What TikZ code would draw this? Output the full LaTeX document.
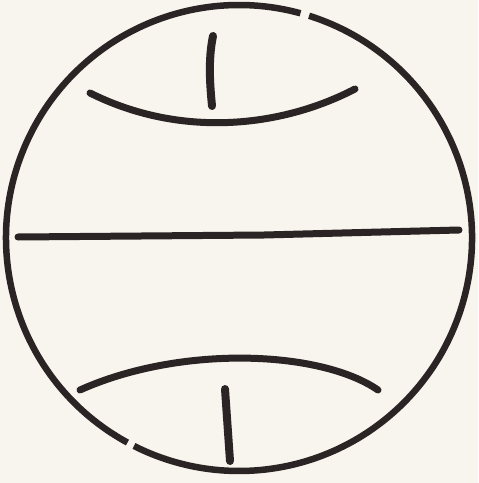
\documentclass[tikz,border=0pt]{standalone}
\usepackage{xcolor}
\usepackage{tikz}
\usetikzlibrary{positioning}

\definecolor{paper}{HTML}{F8F4EE}
\definecolor{ink}{HTML}{2A2424}

\begin{document}
\begin{tikzpicture}[x=0.02cm, y=-0.02cm]
    \tikzstyle{rim} = [draw=ink, line width=0.13cm, line cap=butt]
    \tikzstyle{stroke} = [draw=ink, line width=0.14cm, line cap=round]
    \tikzstyle{tick} = [draw=ink, line width=0.16cm, line cap=round]

    \fill [paper] (0,0) rectangle (478,483);
    \useasboundingbox (0,0) rectangle (478,483);

    \coordinate (centre) at (239,238);

    % outer ring, broken twice
    \path [rim] (centre) ++(-72.5:233) arc [start angle=-72.5, end angle=116.8, radius=233];
    \path [rim] (centre) ++(118.6:233) arc [start angle=118.6, end angle=285.3, radius=233];

    % middle line
    \coordinate (midL) at (18,237);
    \coordinate (midJ) at (264,235);
    \coordinate (midR) at (459,230);
    \path [stroke] (midL) -- (midJ) -- (midR);

    % upper bow and its tick
    \coordinate (upL) at (90,93);
    \coordinate (upR) at (355,89);
    \path [stroke] (upL) .. controls (180,138) and (280,128) .. (upR);
    \coordinate (upTop) at (213,36);
    \coordinate (upBot) at (212,106);
    \path [tick] (upTop) .. controls (208,60) and (210,85) .. (upBot);

    % lower bow and its tick
    \coordinate (loL) at (80,390);
    \coordinate (loR) at (378,390);
    \path [stroke] (loL) .. controls (180,345) and (320,350) .. (loR);
    \coordinate (loTop) at (225,389);
    \coordinate (loBot) at (230,461);
    \path [tick] (loTop) -- (loBot);
\end{tikzpicture}
\end{document}
